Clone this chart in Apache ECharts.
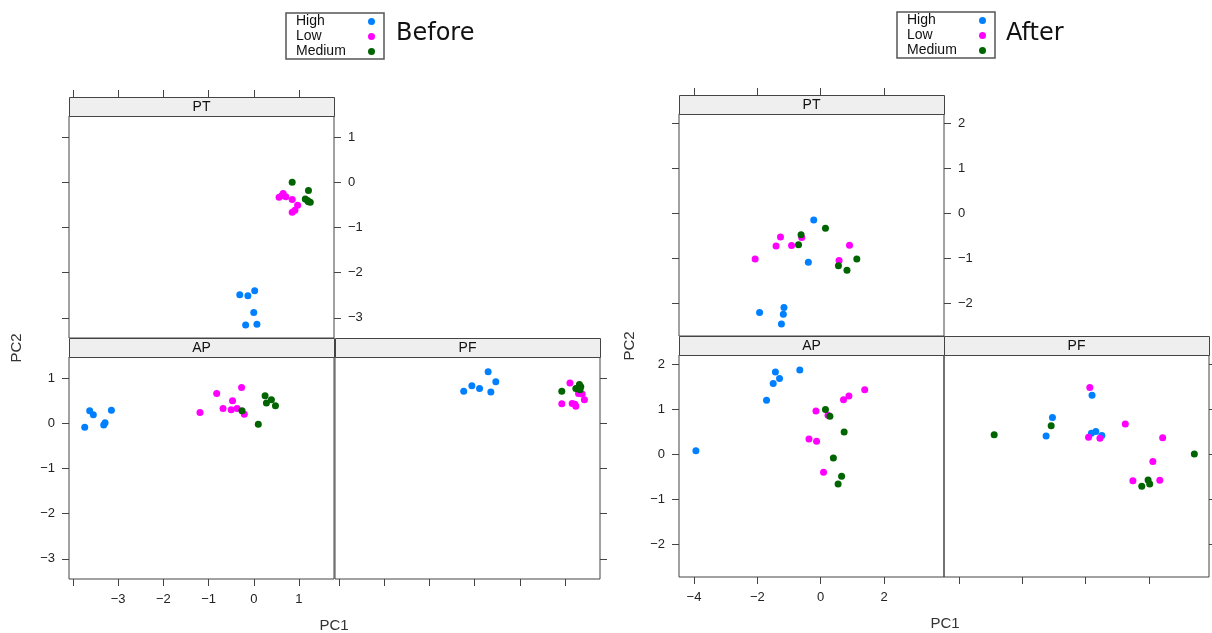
<!DOCTYPE html>
<html>
<head>
<meta charset="utf-8">
<script src="https://cdn.jsdelivr.net/npm/echarts@6/dist/echarts.min.js"></script>
<style>html,body{margin:0;padding:0;background:#fff;}#chart{width:1212px;height:633px;}</style>
</head>
<body>
<div id="chart"></div>
<script>
// ---------- data ----------
const groups = ['High', 'Low', 'Medium'];
const groupColors = ['#0080ff', '#ff00ff', '#006400'];
const panelNames = ['PT', 'AP', 'PF'];

// Before
const beforePT_High = [[-0.31,-2.49],[-0.13,-2.51],[0.02,-2.40],[0.00,-2.88],[-0.18,-3.16],[0.07,-3.14]];
const beforePT_Low = [[0.56,-0.33],[0.62,-0.30],[0.65,-0.25],[0.71,-0.32],[0.85,-0.38],[0.97,-0.51],[0.91,-0.62],[0.85,-0.66]];
const beforePT_Medium = [[0.85,0.00],[1.21,-0.18],[1.14,-0.37],[1.19,-0.40],[1.25,-0.44],[1.21,-0.43]];
const beforeAP_High = [[-3.74,-0.09],[-3.63,0.28],[-3.55,0.19],[-3.32,-0.04],[-3.29,0.01],[-3.15,0.29]];
const beforeAP_Low = [[-1.19,0.24],[-0.82,0.66],[-0.68,0.33],[-0.50,0.30],[-0.47,0.50],[-0.37,0.33],[-0.27,0.79],[-0.21,0.20]];
const beforeAP_Medium = [[-0.26,0.28],[0.10,-0.02],[0.25,0.61],[0.28,0.45],[0.39,0.52],[0.48,0.39]];
const beforePF_High = [[-1.24,0.71],[-1.06,0.83],[-0.89,0.77],[-0.70,1.14],[-0.53,0.92],[-0.64,0.69]];
const beforePF_Low = [[1.11,0.89],[0.93,0.43],[1.16,0.44],[1.24,0.38],[1.30,0.66],[1.38,0.65],[1.43,0.52],[1.22,0.42]];
const beforePF_Medium = [[0.93,0.71],[1.32,0.86],[1.30,0.76],[1.24,0.77],[1.35,0.81],[1.33,0.74]];

// After
const afterPT_High = [[-0.22,-0.15],[-0.39,-1.09],[-1.93,-2.21],[-1.16,-2.10],[-1.18,-2.25],[-1.24,-2.47]];
const afterPT_Low = [[-2.07,-1.02],[-1.41,-0.73],[-1.27,-0.53],[-0.92,-0.72],[-0.60,-0.54],[0.58,-1.05],[0.91,-0.71]];
const afterPT_Medium = [[-0.62,-0.48],[-0.70,-0.70],[0.15,-0.33],[0.56,-1.17],[0.83,-1.27],[1.14,-1.02]];
const afterAP_High = [[-3.94,0.08],[-1.71,1.21],[-1.50,1.58],[-1.43,1.84],[-1.30,1.69],[-0.66,1.88]];
const afterAP_Low = [[-0.15,0.97],[-0.37,0.34],[-0.13,0.29],[0.09,-0.40],[0.72,1.22],[0.89,1.30],[1.39,1.44],[0.23,0.87]];
const afterAP_Medium = [[0.15,1.00],[0.29,0.85],[0.74,0.50],[0.40,-0.08],[0.66,-0.49],[0.55,-0.66]];
const afterPF_High = [[-1.05,0.82],[-1.25,0.41],[0.20,1.32],[0.18,0.47],[0.32,0.51],[0.51,0.42]];
const afterPF_Low = [[0.13,1.49],[0.09,0.38],[0.45,0.36],[1.25,0.68],[2.43,0.37],[2.12,-0.16],[1.49,-0.59],[2.34,-0.58]];
const afterPF_Medium = [[-2.89,0.44],[-1.09,0.64],[1.77,-0.71],[1.97,-0.57],[2.02,-0.66],[3.43,0.01]];

// ticks
const xTicksBefore = [-4, -3, -2, -1, 0, 1];
const xLabelsBefore = [-3, -2, -1, 0, 1];
const yTicksBefore = [-3, -2, -1, 0, 1];
const xTicksAfter = [-4, -2, 0, 2];
const xLabelsAfter = [-4, -2, 0, 2];
const yTicksAfter = [-2, -1, 0, 1, 2];

// ---------- layout ----------
const sides = [
  {
    title: 'Before', titleLeft: 396, legendLeft: 286, legendTop: 13, pc1: [334, 626], pc2: [17, 348],
    xRange: [-4.088, 1.775], yRange: [-3.445, 1.467],
    xTicks: xTicksBefore, xLabels: xLabelsBefore, yTicks: yTicksBefore, yLabels: yTicksBefore,
    panels: [
      { rect: [69, 116, 265, 222], strip: 19, data: [beforePT_High, beforePT_Low, beforePT_Medium] },
      { rect: [69, 357, 265, 222], strip: 19, data: [beforeAP_High, beforeAP_Low, beforeAP_Medium] },
      { rect: [335, 357, 265, 222], strip: 19, data: [beforePF_High, beforePF_Low, beforePF_Medium] }
    ]
  },
  {
    title: 'After', titleLeft: 1006, legendLeft: 897, legendTop: 12, pc1: [945, 624], pc2: [630, 346],
    xRange: [-4.474, 3.893], yRange: [-2.737, 2.217],
    xTicks: xTicksAfter, xLabels: xLabelsAfter, yTicks: yTicksAfter, yLabels: yTicksAfter,
    panels: [
      { rect: [679, 114, 265, 222], strip: 19, data: [afterPT_High, afterPT_Low, afterPT_Medium] },
      { rect: [679, 355, 265, 222], strip: 19, data: [afterAP_High, afterAP_Low, afterAP_Medium] },
      { rect: [944, 355, 265, 222], strip: 19, data: [afterPF_High, afterPF_Low, afterPF_Medium] }
    ]
  }
];

const FONT = 'Liberation Sans, Arial, sans-serif';
const fmt = v => String(v).replace('-', '\u2212');

const grid = [], xAxis = [], yAxis = [], series = [], graphic = [], title = [], legend = [];

function axis(gridIndex, position, range, ticks, labels, offset) {
  return {
    type: 'value', gridIndex, position, min: range[0], max: range[1], offset: offset || 0,
    axisLine: { show: false, onZero: false },
    splitLine: { show: false },
    axisTick: ticks ? { show: true, inside: false, length: 7, customValues: ticks, lineStyle: { color: '#444', width: 1 } } : { show: false },
    axisLabel: labels ? { show: true, customValues: labels, margin: 14, fontSize: 13, fontFamily: FONT, color: '#222', formatter: fmt } : { show: false }
  };
}

sides.forEach(side => {
  side.panels.forEach((p, pi) => {
    const gi = grid.length;
    const [l, t, w, h] = p.rect;
    grid.push({ left: l, top: t, width: w, height: h, show: true, borderColor: '#444', borderWidth: 1, backgroundColor: 'transparent', containLabel: false });
    const xi = xAxis.length, yi = yAxis.length;
    if (pi === 0) {
      xAxis.push(axis(gi, 'bottom', side.xRange, null, null));
      xAxis.push(axis(gi, 'top', side.xRange, side.xTicks, null, p.strip));
      yAxis.push(axis(gi, 'left', side.yRange, side.yTicks, null));
      yAxis.push(axis(gi, 'right', side.yRange, side.yTicks, side.yLabels));
    } else if (pi === 1) {
      xAxis.push(axis(gi, 'bottom', side.xRange, side.xTicks, side.xLabels));
      yAxis.push(axis(gi, 'left', side.yRange, side.yTicks, side.yLabels));
    } else {
      xAxis.push(axis(gi, 'bottom', side.xRange, side.xTicks, null));
      yAxis.push(axis(gi, 'left', side.yRange, null, null));
      yAxis.push(axis(gi, 'right', side.yRange, side.yTicks, null));
    }
    groups.forEach((g, k) => {
      series.push({
        type: 'scatter', name: g, xAxisIndex: xi, yAxisIndex: yi,
        data: p.data[k], symbol: 'circle', symbolSize: 7,
        itemStyle: { color: groupColors[k], opacity: 1 },
        emphasis: { disabled: true }, silent: true
      });
    });
    graphic.push({
      type: 'group', silent: true,
      children: [
        { type: 'rect', shape: { x: l + 0.5, y: t - p.strip + 0.5, width: w, height: p.strip }, style: { fill: '#efefef', stroke: '#444', lineWidth: 1 } },
        { type: 'text', x: l + w / 2, y: t - p.strip / 2 + 1, style: { text: panelNames[pi], fontSize: 14, fontFamily: FONT, fill: '#111', align: 'center', verticalAlign: 'middle' } }
      ]
    });
  });
  title.push({ text: side.title, left: side.titleLeft, top: 22, padding: 0, textStyle: { fontSize: 24, fontFamily: 'DejaVu Sans', fontWeight: 'normal', color: '#111' } });
  legend.push({
    data: groups, orient: 'vertical', align: 'right', left: side.legendLeft, top: side.legendTop,
    padding: [1, 9, 0, 10], itemGap: 0, itemWidth: 7, itemHeight: 7, icon: 'circle',
    borderColor: '#555', borderWidth: 1.5, selectedMode: false,
    formatter: name => '{t|' + name + '}',
    textStyle: {
      fontSize: 14, fontFamily: FONT, color: '#111', lineHeight: 15,
      rich: { t: { width: 67, align: 'left', fontSize: 14, fontFamily: FONT, color: '#111', lineHeight: 15 } }
    }
  });
  graphic.push({ type: 'text', x: side.pc1[0], y: side.pc1[1], silent: true, style: { text: 'PC1', fontSize: 15, fontFamily: FONT, fill: '#333', align: 'center', verticalAlign: 'middle' } });
  graphic.push({ type: 'text', x: side.pc2[0], y: side.pc2[1], rotation: Math.PI / 2, silent: true, style: { text: 'PC2', fontSize: 15, fontFamily: FONT, fill: '#333', align: 'center', verticalAlign: 'middle' } });
});

const chart = echarts.init(document.getElementById('chart'), null, { renderer: 'canvas' });
chart.setOption({ animation: false, backgroundColor: '#fff', title, legend, grid, xAxis, yAxis, series, graphic });
</script>
</body>
</html>
